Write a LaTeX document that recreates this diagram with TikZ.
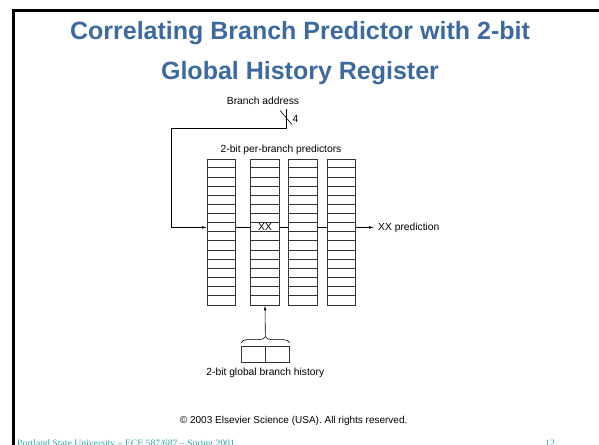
\documentclass[tikz,border=0pt]{standalone}
\usepackage{fontspec}
\setmainfont{Liberation Sans}
\newfontfamily\footfont{Liberation Serif}
\usetikzlibrary{arrows.meta}
\usetikzlibrary{decorations.pathreplacing}
\usetikzlibrary{positioning}
\definecolor{titleBlue}{HTML}{3C6AA0}
\definecolor{footTeal}{HTML}{2AA6A6}

\tikzset{
  slidetitle/.style={font=\fontsize{25}{30}\selectfont\bfseries, text=titleBlue, inner sep=0pt},
  lbl/.style={font=\fontsize{10.3}{12}\selectfont, inner sep=0pt},
  predcol/.style={draw=black!80, line width=0.7pt, minimum width=28.5pt, minimum height=146pt, inner sep=0pt},
  histbit/.style={draw=black!80, line width=0.7pt, minimum width=23.5pt, minimum height=16pt, inner sep=0pt},
  wire/.style={line width=0.6pt},
  sig/.style={wire, -{Latex[length=5pt,width=2.6pt]}},
  foot/.style={font=\footfont\fontsize{9.7}{11}\selectfont, text=footTeal, inner sep=0pt, anchor=base west}
}

\begin{document}
\begin{tikzpicture}[x=1pt,y=-1pt]
  \useasboundingbox (0,0) rectangle (599,444);

  %% slide frame and title
  \draw[line width=2.6pt] (13.6,446) -- (13.6,10.8) -- (600,10.8);
  \node[slidetitle, anchor=base] (title1) at (300,40) {Correlating Branch Predictor with 2-bit};
  \node[slidetitle, anchor=base] (title2) at (300,79.5) {Global History Register};

  %% branch address input
  \node[lbl] (addr) at (263,100.7) {Branch address};
  \coordinate (addrin) at (286,109);
  \coordinate (bend) at (171,128);
  \draw[wire] (280,110.5) -- (292,124.5);
  \node[lbl, anchor=west] (nbits) at (292.5,118.5) {4};

  %% predictor tables, 16 entries each
  \node[lbl] (tablbl) at (281,150) {2-bit per-branch predictors};
  \node[predcol] (col1) at (221.5,232) {};
  \node[predcol] (col2) at (265,232) {};
  \node[predcol] (col3) at (303,232) {};
  \node[predcol] (col4) at (341.5,232) {};
  \foreach \c in {1,...,4}
    \foreach \r in {1,...,15}
      \draw[draw=black!80, line width=0.6pt] (col\c.north west) ++(0,\r*9.125) -- ++(28.5,0);

  % selected entry
  \node[lbl] (xx) at (265,227.4) {XX};
  \coordinate (in1) at (col1.west |- xx);

  \draw[sig] (addrin) |- (bend) |- (in1);
  \draw[wire] (col1.east |- xx) -- (col2.west |- xx);
  \draw[wire] (col2.east |- xx) -- (col3.west |- xx);
  \draw[wire] (col3.east |- xx) -- (col4.west |- xx);
  \node[lbl, anchor=west] (pred) at (378,227.4) {XX prediction};
  \draw[sig] (col4.east |- xx) -- ([xshift=-4pt]pred.west);

  %% global history register
  \node[histbit] (h1) at (253.25,354) {};
  \node[histbit, right=0pt of h1] (h2) {};
  \draw[wire, decorate, decoration={brace, amplitude=6pt}]
    ([yshift=3pt]h1.north west) -- ([yshift=3pt]h2.north east);
  \coordinate (tip) at ([yshift=9pt]h1.north east);
  \draw[sig] (tip) -- (col2.south);
  \node[lbl, below=5pt of h1.south east] (histlbl) {2-bit global branch history};

  %% footer
  \node[lbl, font=\fontsize{10}{12}\selectfont, anchor=base] (copy) at (293.7,423.5) {© 2003 Elsevier Science (USA). All rights reserved.};
  \node[foot] (course) at (17,446) {Portland State University – ECE 587/687 – Spring 2001};
  \node[foot] (page) at (545,446) {12};
\end{tikzpicture}
\end{document}
